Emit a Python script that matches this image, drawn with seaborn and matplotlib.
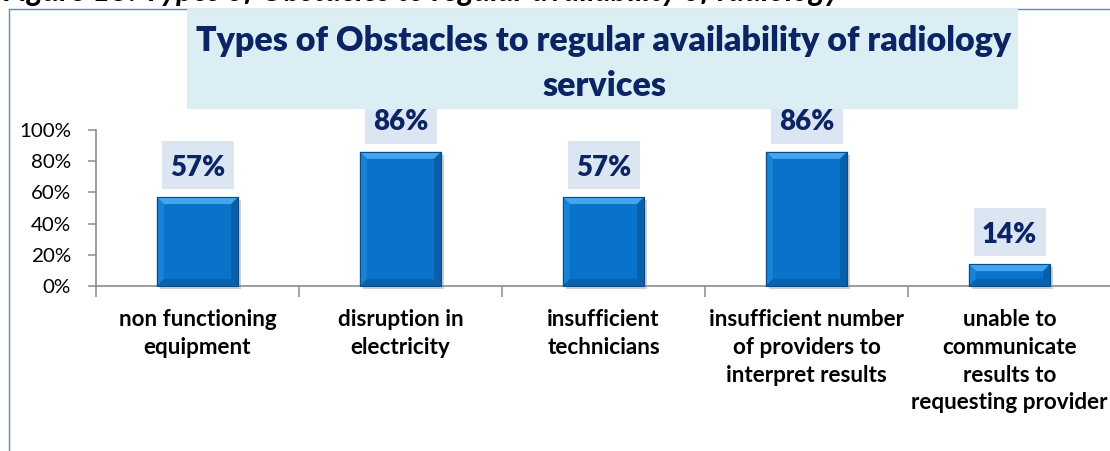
import numpy as np
import pandas as pd
import seaborn as sns
import matplotlib
matplotlib.use("Agg")
import matplotlib.pyplot as plt
from matplotlib.patches import Rectangle, Polygon
from matplotlib.lines import Line2D
from matplotlib.transforms import IdentityTransform

# ---------------- data ----------------
categories = ["non functioning\nequipment",
              "disruption in\nelectricity",
              "insufficient\ntechnicians",
              "insufficient number\nof providers to\ninterpret results",
              "unable to\ncommunicate\nresults to\nrequesting provider"]
values = [0.57, 0.86, 0.57, 0.86, 0.14]
value_labels = ["57%", "86%", "57%", "86%", "14%"]
yticks = [0.0, 0.2, 0.4, 0.6, 0.8, 1.0]
ytick_labels = ["0%", "20%", "40%", "60%", "80%", "100%"]
title_lines = ["Types of Obstacles to regular availability of radiology", "services"]
caption = "Figure 13: Types of Obstacles to regular availability of radiology"

# ---------------- style ----------------
W, H = 1110, 451
sns.set_theme(style="white")
plt.rcParams["font.family"] = ["Lato", "DejaVu Sans"]

NAVY = "#0B2463"
GRAY = "#8C8C8C"

fig = plt.figure(figsize=(W / 100, H / 100), dpi=100)
fig.patch.set_facecolor("white")
renderer = fig.canvas.get_renderer()


def fit(text, target_px, weight="bold", style="normal", size=20):
    t = fig.text(0, 0, text, fontsize=size, fontweight=weight, fontstyle=style)
    w = t.get_window_extent(renderer).width
    t.remove()
    return size * target_px / w


def fy(y_top):
    return 1 - y_top / H


# ---------------- axes / bars ----------------
ax = fig.add_axes([96 / W, (H - 286) / H, 1015 / W, 156 / H])
ax.patch.set_alpha(0)
df = pd.DataFrame({"cat": categories, "val": values})
sns.barplot(data=df, x="cat", y="val", color="#0873C8", saturation=1,
            width=0.4, ax=ax, edgecolor="#0A4C88", linewidth=0.8, zorder=3)
ax.set_xlim(-0.5, len(categories) - 0.5)
ax.set_ylim(0, 1)
ax.set_xlabel("")
ax.set_ylabel("")

for s in ["top", "right"]:
    ax.spines[s].set_visible(False)
for s in ["left", "bottom"]:
    ax.spines[s].set_color(GRAY)
    ax.spines[s].set_linewidth(1.2)

ytick_size = fit("100%", 52, weight="normal")
xlab_size = fit("insufficient number", 195, weight="bold")
ax.set_yticks(yticks, ytick_labels)
ax.tick_params(axis="y", direction="out", length=6, width=1.1, color=GRAY,
               pad=12, labelsize=ytick_size, labelcolor="black", left=True)
ax.set_xticks(range(len(categories)))
ax.set_xticklabels(categories, fontsize=xlab_size, fontweight="bold",
                   color="black", linespacing=1.40)
ax.tick_params(axis="x", which="major", length=0, pad=16.5)
ax.set_xticks(np.arange(-0.5, len(categories)), minor=True)
ax.tick_params(axis="x", which="minor", direction="out", length=8,
               width=1.1, color=GRAY, bottom=True)

# bevel / shadow decorations derived from the bar patches
B = 7
lab_size = fit("57%", 55, weight="heavy")
for p, lab in zip(list(ax.patches), value_labels):
    x0, x1 = p.get_x(), p.get_x() + p.get_width()
    (X0, Y0) = ax.transData.transform((x0, 0))
    (X1, Y1) = ax.transData.transform((x1, p.get_height()))
    b = min(B, (Y1 - Y0) / 3)
    idt = IdentityTransform()
    # shadow
    ax.add_patch(Polygon([(X0 + 3, Y0 - 3), (X1 + 3, Y0 - 3), (X1 + 3, Y1 - 3), (X1, Y1 - 3), (X1, Y0), (X0 + 3, Y0)],
                         closed=True, transform=idt, facecolor="#9A9A9A", alpha=0.45,
                         edgecolor="none", zorder=2, clip_on=False))
    # top bevel
    ax.add_patch(Polygon([(X0, Y1), (X1, Y1), (X1 - b, Y1 - b), (X0 + b, Y1 - b)], closed=True,
                         transform=idt, facecolor="#44A4EE", edgecolor="none", zorder=4, clip_on=False))
    # left bevel
    ax.add_patch(Polygon([(X0, Y1), (X0 + b, Y1 - b), (X0 + b, Y0 + b), (X0, Y0)], closed=True,
                         transform=idt, facecolor="#1883D6", edgecolor="none", zorder=4, clip_on=False))
    # right bevel
    ax.add_patch(Polygon([(X1, Y1), (X1 - b, Y1 - b), (X1 - b, Y0 + b), (X1, Y0)], closed=True,
                         transform=idt, facecolor="#0A5EA8", edgecolor="none", zorder=4, clip_on=False))
    # bottom bevel
    ax.add_patch(Polygon([(X0, Y0), (X1, Y0), (X1 - b, Y0 + b), (X0 + b, Y0 + b)], closed=True,
                         transform=idt, facecolor="#0A62AE", edgecolor="none", zorder=4, clip_on=False))
    # outline
    ax.add_patch(Polygon([(X0, Y0), (X1, Y0), (X1, Y1), (X0, Y1)], closed=True, transform=idt,
                         facecolor="none", edgecolor="#0A4C88", linewidth=0.8, zorder=5, clip_on=False))
    # label box
    cx = (X0 + X1) / 2
    bw, bh = 72, 48
    ax.add_patch(Rectangle((cx - bw / 2, Y1 + 8), bw, bh, transform=idt, facecolor="#DCE6F2",
                           edgecolor="none", zorder=6, clip_on=False))
    ax.text(cx, Y1 + 8 + bh / 2, lab, transform=idt, ha="center", va="center_baseline",
            fontsize=lab_size, fontweight="heavy", color=NAVY, zorder=7, clip_on=False)

# ---------------- figure-level decorations ----------------
# frame lines
fig.add_artist(Line2D([8.5 / W, 8.5 / W], [0, fy(9)], transform=fig.transFigure,
                      color="#5A8AC6", linewidth=1.0, zorder=1))
fig.add_artist(Line2D([8.5 / W, 1], [fy(9), fy(9)], transform=fig.transFigure,
                      color="#5A8AC6", linewidth=1.0, zorder=1))

# clipped caption at top (only its lowest part shows, as in the source crop)
cap_size = fit(caption, 837, weight="bold", style="italic")
fig.text(3 / W, fy(6), caption, fontsize=cap_size, fontweight="bold", fontstyle="italic",
         color="black", ha="left", va="bottom")

# title box
fig.add_artist(Rectangle((187 / W, fy(109)), (1018 - 187) / W, 100 / H,
                         transform=fig.transFigure, facecolor="#DAEEF3",
                         edgecolor="none", zorder=2))
title_size = fit(title_lines[0], 816, weight="heavy")
fig.text(604 / W, fy(51), title_lines[0], fontsize=title_size, fontweight="heavy",
         color=NAVY, ha="center", va="baseline", zorder=3)
fig.text(604 / W, fy(96), title_lines[1], fontsize=title_size, fontweight="heavy",
         color=NAVY, ha="center", va="baseline", zorder=3)

fig.savefig("out.png", dpi=100, facecolor="white")
